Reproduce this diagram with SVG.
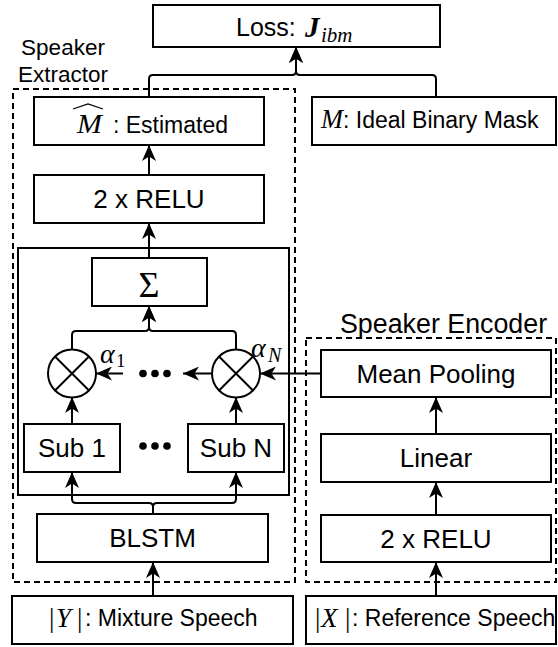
<svg xmlns="http://www.w3.org/2000/svg" width="558" height="647" viewBox="0 0 558 647">
  <style>
    .box { fill: #ffffff; stroke: #000000; stroke-width: 2; }
    .group { fill: none; stroke: #000000; stroke-width: 2; stroke-dasharray: 6 4; }
    .frame { fill: none; stroke: #000000; stroke-width: 2; }
    .wire { fill: none; stroke: #000000; stroke-width: 2; }
    .lbl { font-family: "Liberation Sans", Arial, Helvetica, sans-serif; font-size: 26px; fill: #000000; text-anchor: middle; }
    .cap { font-family: "Liberation Sans", Arial, Helvetica, sans-serif; font-size: 23px; fill: #000000; }
    .math { font-family: "Liberation Serif", "Times New Roman", serif; font-style: italic; fill: #000000; }
    .mathup { font-family: "Liberation Serif", "Times New Roman", serif; fill: #000000; }
    .title { font-family: "Liberation Sans", Arial, Helvetica, sans-serif; fill: #000000; }
  </style>
  <defs>
    <marker id="arrow" viewBox="0 0 16 14" refX="16" refY="7" markerWidth="16" markerHeight="14" markerUnits="userSpaceOnUse" orient="auto">
      <path d="M0,0 L16,7 L0,14 L4.5,7 Z" fill="#000000"/>
    </marker>
  </defs>

  <!-- dashed group outlines -->
  <g id="speaker-extractor">
    <rect class="group" x="13" y="89" width="282" height="493"/>
    <text class="title" font-size="22.5" text-anchor="middle" x="63" y="55">Speaker</text>
    <text class="title" font-size="22.5" text-anchor="middle" x="63" y="82">Extractor</text>
  </g>
  <g id="speaker-encoder">
    <rect class="group" x="306" y="338" width="250" height="244"/>
    <text class="title" font-size="26.8" x="340" y="333">Speaker Encoder</text>
  </g>
  <g id="subband-block">
    <rect class="frame" x="18" y="248" width="271" height="247"/>
  </g>

  <!-- connectors -->
  <g id="connectors">
    <path class="wire" d="M149,97 V79 Q149,75 153,75 H292 Q296,75 296,71 V47" marker-end="url(#arrow)"/>
    <path class="wire" d="M436,97 V79 Q436,75 432,75 H300 Q296,75 296,71 V47" marker-end="url(#arrow)"/>
    <path class="wire" d="M149,175 V145" marker-end="url(#arrow)"/>
    <path class="wire" d="M149,258 V223" marker-end="url(#arrow)"/>
    <path class="wire" d="M72,349 V335 Q72,331 76,331 H145 Q149,331 149,327 V306" marker-end="url(#arrow)"/>
    <path class="wire" d="M236,349 V335 Q236,331 232,331 H153 Q149,331 149,327 V306" marker-end="url(#arrow)"/>
    <path class="wire" d="M72,424 V397" marker-end="url(#arrow)"/>
    <path class="wire" d="M236,424 V397" marker-end="url(#arrow)"/>
    <path class="wire" d="M153,514 V507 Q153,503 149,503 H76 Q72,503 72,499 V472" marker-end="url(#arrow)"/>
    <path class="wire" d="M153,514 V507 Q153,503 157,503 H232 Q236,503 236,499 V472" marker-end="url(#arrow)"/>
    <path class="wire" d="M153,596 V562" marker-end="url(#arrow)"/>
    <path class="wire" d="M321,373.5 H260" marker-end="url(#arrow)"/>
    <path class="wire" d="M212,373.5 H183" marker-end="url(#arrow)"/>
    <path class="wire" d="M123,373.5 H96" marker-end="url(#arrow)"/>
    <path class="wire" d="M436,434 V397" marker-end="url(#arrow)"/>
    <path class="wire" d="M436,515 V482" marker-end="url(#arrow)"/>
    <path class="wire" d="M436,596 V562" marker-end="url(#arrow)"/>
  </g>

  <!-- nodes -->
  <g id="loss">
    <rect class="box" x="153" y="5" width="287" height="42"/>
    <text class="title" font-size="25" x="236" y="36">Loss:</text>
    <text class="math" font-size="29" font-weight="bold" x="305" y="37">J</text>
    <text class="math" font-size="21" x="321" y="42">ibm</text>
  </g>

  <g id="mask-estimated">
    <rect class="box" x="34" y="97" width="230" height="48"/>
    <path d="M73,109 L88,104 L103,109" fill="none" stroke="#000000" stroke-width="1.3"/>
    <text class="math" font-size="28" x="77" y="133" textLength="25" lengthAdjust="spacingAndGlyphs">M</text>
    <text class="cap" x="113" y="133">: Estimated</text>
  </g>

  <g id="mask-ideal">
    <rect class="box" x="312" y="97" width="244" height="48"/>
    <text class="math" font-size="28" x="321" y="128" textLength="22" lengthAdjust="spacingAndGlyphs">M</text>
    <text class="cap" x="343" y="128">: Ideal Binary Mask</text>
  </g>

  <g id="relu-extractor">
    <rect class="box" x="34" y="175" width="230" height="48"/>
    <text class="lbl" x="149" y="208">2 x RELU</text>
  </g>

  <g id="sum">
    <rect class="box" x="92" y="258" width="115" height="48"/>
    <text class="mathup" font-size="36" text-anchor="middle" x="149" y="297">Σ</text>
  </g>

  <g id="mult-1">
    <circle cx="72" cy="373.5" r="24" fill="#ffffff" stroke="#000000" stroke-width="2"/>
    <path d="M55,356.5 L89,390.5 M89,356.5 L55,390.5" stroke="#000000" stroke-width="2"/>
    <text class="math" font-size="28" x="100" y="363">α</text>
    <text class="mathup" font-size="19" x="116" y="367">1</text>
  </g>

  <g id="mult-n">
    <circle cx="236" cy="373.5" r="24" fill="#ffffff" stroke="#000000" stroke-width="2"/>
    <path d="M219,356.5 L253,390.5 M253,356.5 L219,390.5" stroke="#000000" stroke-width="2"/>
    <text class="math" font-size="28" x="251" y="357">α</text>
    <text class="math" font-size="20" x="268" y="362">N</text>
  </g>

  <g id="dots-weights">
    <circle cx="143" cy="373.5" r="3.8"/>
    <circle cx="155" cy="373.5" r="3.8"/>
    <circle cx="167" cy="373.5" r="3.8"/>
  </g>

  <g id="sub-1">
    <rect class="box" x="24" y="424" width="96" height="48"/>
    <text class="lbl" x="72" y="457">Sub 1</text>
  </g>

  <g id="dots-subbands">
    <circle cx="143" cy="446" r="3.8"/>
    <circle cx="155" cy="446" r="3.8"/>
    <circle cx="167" cy="446" r="3.8"/>
  </g>

  <g id="sub-n">
    <rect class="box" x="188" y="424" width="96" height="48"/>
    <text class="lbl" x="236" y="457">Sub N</text>
  </g>

  <g id="blstm">
    <rect class="box" x="37" y="514" width="231" height="48"/>
    <text class="lbl" x="152.5" y="547">BLSTM</text>
  </g>

  <g id="mixture">
    <rect class="box" x="12" y="596" width="281" height="48"/>
    <text class="mathup" font-size="27" x="49" y="627">|</text>
    <text class="math" font-size="27" x="56" y="627">Y</text>
    <text class="mathup" font-size="27" x="77" y="627">|</text>
    <text class="cap" x="85" y="626">: Mixture Speech</text>
  </g>

  <g id="mean-pooling">
    <rect class="box" x="321" y="350" width="230" height="47"/>
    <text class="lbl" x="436" y="383">Mean Pooling</text>
  </g>

  <g id="linear">
    <rect class="box" x="321" y="434" width="230" height="48"/>
    <text class="lbl" x="436" y="467">Linear</text>
  </g>

  <g id="relu-encoder">
    <rect class="box" x="321" y="515" width="230" height="47"/>
    <text class="lbl" x="436" y="548">2 x RELU</text>
  </g>

  <g id="reference">
    <rect class="box" x="306" y="596" width="250" height="48"/>
    <text class="mathup" font-size="27" x="315" y="627">|</text>
    <text class="math" font-size="27" x="321" y="627">X</text>
    <text class="mathup" font-size="27" x="345" y="627">|</text>
    <text class="cap" x="352" y="626">: Reference Speech</text>
  </g>
</svg>
